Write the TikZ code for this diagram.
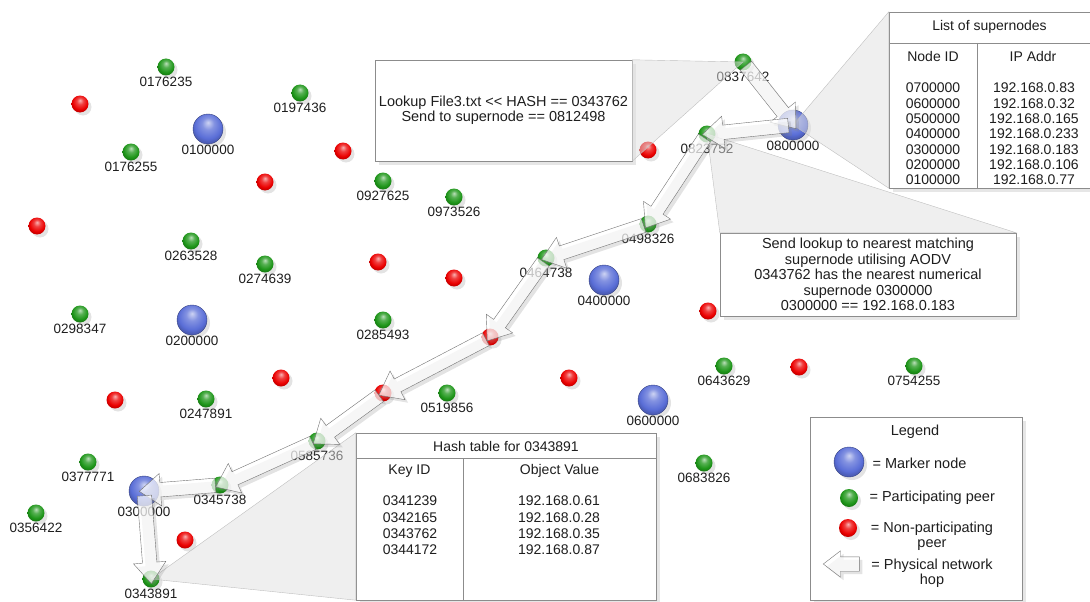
\documentclass[tikz,border=0pt]{standalone}
\usepackage{fontspec}
\setmainfont{Liberation Sans}
\usepackage{tikz}
\usetikzlibrary{shapes.arrows,shadows,calc}

\definecolor{peergreen}{RGB}{30,150,25}
\definecolor{deadred}{RGB}{235,0,0}
\definecolor{markerblue}{RGB}{90,110,215}
\definecolor{ink}{RGB}{30,30,30}

% glossy ball, lighter on top, no black rim
\makeatletter
\pgfdeclareradialshading[tikz@ball]{glossy}{\pgfpoint{0bp}{11bp}}{%
  color(0bp)=(tikz@ball!30!white); color(10bp)=(tikz@ball!75!white);
  color(22bp)=(tikz@ball); color(27bp)=(tikz@ball!85!black); color(50bp)=(tikz@ball!85!black)}
\makeatother

\tikzset{
  every label/.style={font=\fontsize{13.5}{14}\selectfont, inner sep=1pt, text=ink},
  label distance=0pt,
  ball/.style={circle, inner sep=0pt,
    drop shadow={shadow xshift=3pt, shadow yshift=-3pt, opacity=0.22}},
  peer/.style={ball, minimum size=17pt, ball color=peergreen, shading=glossy},
  deadpeer/.style={ball, minimum size=17pt, ball color=deadred, shading=glossy},
  marker/.style={ball, minimum size=30pt, ball color=markerblue, shading=glossy, draw=markerblue!60!black, thin},
  hoparrow/.style={single arrow, draw=black!55, fill=white, fill opacity=0.7,
    inner sep=7pt, single arrow head extend=9pt, single arrow tip angle=75,
    drop shadow={shadow xshift=3pt, shadow yshift=-3pt, opacity=0.22}},
  panel/.style={draw=black!45, fill=white, inner sep=0pt,
    drop shadow={shadow xshift=4pt, shadow yshift=-4pt, opacity=0.2}},
  wedge/.style={fill=black!12, fill opacity=0.5, draw=black!25, thin},
  rule/.style={draw=black!45},
  boxtext/.style={font=\fontsize{14.5}{15.5}\selectfont, align=center, text=ink},
  tabtext/.style={font=\fontsize{14}{15.3}\selectfont, align=center, text=ink},
}

\newcommand{\peernode}[1]{\node[peer, label=below:#1]}
\newcommand{\supnode}[1]{\node[marker, label=below:#1]}
\newcommand{\deadnode}{\node[deadpeer]}
% fat arrow from one node centre to the next
\newcommand{\hop}[2]{\path let \p1=($(#2)-(#1)$), \n1={veclen(\x1,\y1)} in
  (#1.center) -- (#2.center) node[hoparrow, midway, sloped, allow upside down, minimum height=\n1] {};}

\begin{document}
\begin{tikzpicture}[x=1pt,y=-1pt]
  \useasboundingbox (0,0) rectangle (1090,602);

  % supernodes
  \supnode{0100000} (m0100000) at (208,129) {};
  \supnode{0200000} (m0200000) at (192,320) {};
  \supnode{0300000} (m0300000) at (144,491) {};
  \supnode{0400000} (m0400000) at (604,280) {};
  \supnode{0600000} (m0600000) at (653,400) {};
  \supnode{0800000} (m0800000) at (793,125) {};

  % participating peers
  \peernode{0176235} (p0176235) at (166,67) {};
  \peernode{0197436} (p0197436) at (300,93) {};
  \peernode{0176255} (p0176255) at (131,152) {};
  \peernode{0927625} (p0927625) at (383,181) {};
  \peernode{0973526} (p0973526) at (454,197) {};
  \peernode{0263528} (p0263528) at (191,241) {};
  \peernode{0274639} (p0274639) at (265,264) {};
  \peernode{0298347} (p0298347) at (80,314) {};
  \peernode{0285493} (p0285493) at (383,320) {};
  \peernode{0247891} (p0247891) at (206,399) {};
  \peernode{0519856} (p0519856) at (447,393) {};
  \peernode{0377771} (p0377771) at (88,462) {};
  \peernode{0356422} (p0356422) at (36,513) {};
  \peernode{0345738} (p0345738) at (220,485) {};
  \peernode{0585736} (p0585736) at (317,441) {};
  \peernode{0343891} (p0343891) at (151,579) {};
  \peernode{0643629} (p0643629) at (724,366) {};
  \peernode{0754255} (p0754255) at (914,366) {};
  \peernode{0683826} (p0683826) at (704,463) {};
  \peernode{0837642} (p0837642) at (743,62) {};
  \peernode{0823752} (p0823752) at (707,134) {};
  \peernode{0498326} (p0498326) at (648,224) {};
  \peernode{0464738} (p0464738) at (546,258) {};

  % non-participating peers
  \deadnode (r1) at (80,104) {};
  \deadnode (r2) at (343,151) {};
  \deadnode (r3) at (265,182) {};
  \deadnode (r4) at (37,226) {};
  \deadnode (r5) at (378,262) {};
  \deadnode (r6) at (454,278) {};
  \deadnode (r7) at (648,150) {};
  \deadnode (r8) at (708,311) {};
  \deadnode (r9) at (281,378) {};
  \deadnode (r10) at (115,400) {};
  \deadnode (r11) at (569,378) {};
  \deadnode (r12) at (799,367) {};
  \deadnode (r13) at (490,337) {};
  \deadnode (r14) at (383,393) {};
  \deadnode (r15) at (185,540) {};

  % callout boxes
  \node[panel, boxtext, minimum width=257pt, minimum height=101pt] (lookup) at (503.5,110.5)
    {Lookup File3.txt <\kern0pt< HASH == 0343762\\Send to supernode == 0812498};
  \node[panel, boxtext, minimum width=296pt, minimum height=83pt] (aodv) at (868,274.5)
    {Send lookup to nearest matching\\supernode utilising AODV\\0343762 has the nearest numerical\\supernode 0300000\\0300000 == 192.168.0.183};

  % list of supernodes
  \node[panel, minimum width=203pt, minimum height=176pt] (snlist) at (990.5,100) {};
  \draw[rule] (snlist.west |- 0,43) -- (snlist.east |- 0,43);
  \draw[rule] (977,43) -- (977,0 |- snlist.south);
  \node[tabtext] (snhead) at (989.5,27) {List of supernodes};
  \node[tabtext] (snid) at (933,56) {Node ID};
  \node[tabtext] (snip) at (1033,56) {IP Addr};
  \node[tabtext] (snids) at (933,134) {0700000\\0600000\\0500000\\0400000\\0300000\\0200000\\0100000};
  \node[tabtext] (snips) at (1034,134) {192.168.0.83\\192.168.0.32\\192.168.0.165\\192.168.0.233\\192.168.0.183\\192.168.0.106\\192.168.0.77};

  % hash table
  \node[panel, minimum width=300pt, minimum height=167pt] (hashtab) at (506,516.5) {};
  \draw[rule] (hashtab.west |- 0,458) -- (hashtab.east |- 0,458);
  \draw[rule] (463,458) -- (463,0 |- hashtab.south);
  \node[tabtext] (hthead) at (506,446) {Hash table for 0343891};
  \node[tabtext] (htkey) at (409.5,471) {Key ID};
  \node[tabtext] (htval) at (559.5,471) {Object Value};
  \node[tabtext, font=\fontsize{14}{16.4}\selectfont] (htkeys) at (410,525.5) {0341239\\0342165\\0343762\\0344172};
  \node[tabtext, font=\fontsize{14}{16.4}\selectfont] (htvals) at (559,525.5) {192.168.0.61\\192.168.0.28\\192.168.0.35\\192.168.0.87};

  % legend
  \node[panel, minimum width=212pt, minimum height=183pt] (legend) at (916,508.5) {};
  \node[boxtext] (leghead) at (915,432) {Legend};
  \node[marker] (keymarker) at (849,462) {};
  \node[boxtext, anchor=west] (keymarkertxt) at (869,463) {= Marker node};
  \node[peer, minimum size=18pt] (keypeer) at (849,498) {};
  \node[boxtext, anchor=west] (keypeertxt) at (866,498) {= Participating peer};
  \node[deadpeer, minimum size=18pt] (keydead) at (848,528) {};
  \node[boxtext] (keydeadtxt) at (932,536) {= Non-participating\\peer};
  \node[hoparrow, shape border rotate=180, minimum height=36pt, single arrow head extend=6pt] (keyhop) at (846,564) {};
  \node[boxtext] (keyhoptxt) at (932,573) {= Physical network\\hop};

  % callout wedges
  \filldraw[wedge] (p0837642.center) -- (lookup.north east) -- (lookup.south east) -- cycle;
  \filldraw[wedge] (m0800000.center) -- (snlist.north west) -- (snlist.south west) -- cycle;
  \filldraw[wedge] (p0823752.center) -- (aodv.north west) -- (aodv.north east) -- cycle;
  \filldraw[wedge] (p0343891.center) -- (hashtab.north west) -- (hashtab.south west) -- cycle;

  % lookup route
  \hop{p0837642}{m0800000}
  \hop{m0800000}{p0823752}
  \hop{p0823752}{p0498326}
  \hop{p0498326}{p0464738}
  \hop{p0464738}{r13}
  \hop{r13}{r14}
  \hop{r14}{p0585736}
  \hop{p0585736}{p0345738}
  \hop{p0345738}{m0300000}
  \hop{m0300000}{p0343891}
\end{tikzpicture}
\end{document}
